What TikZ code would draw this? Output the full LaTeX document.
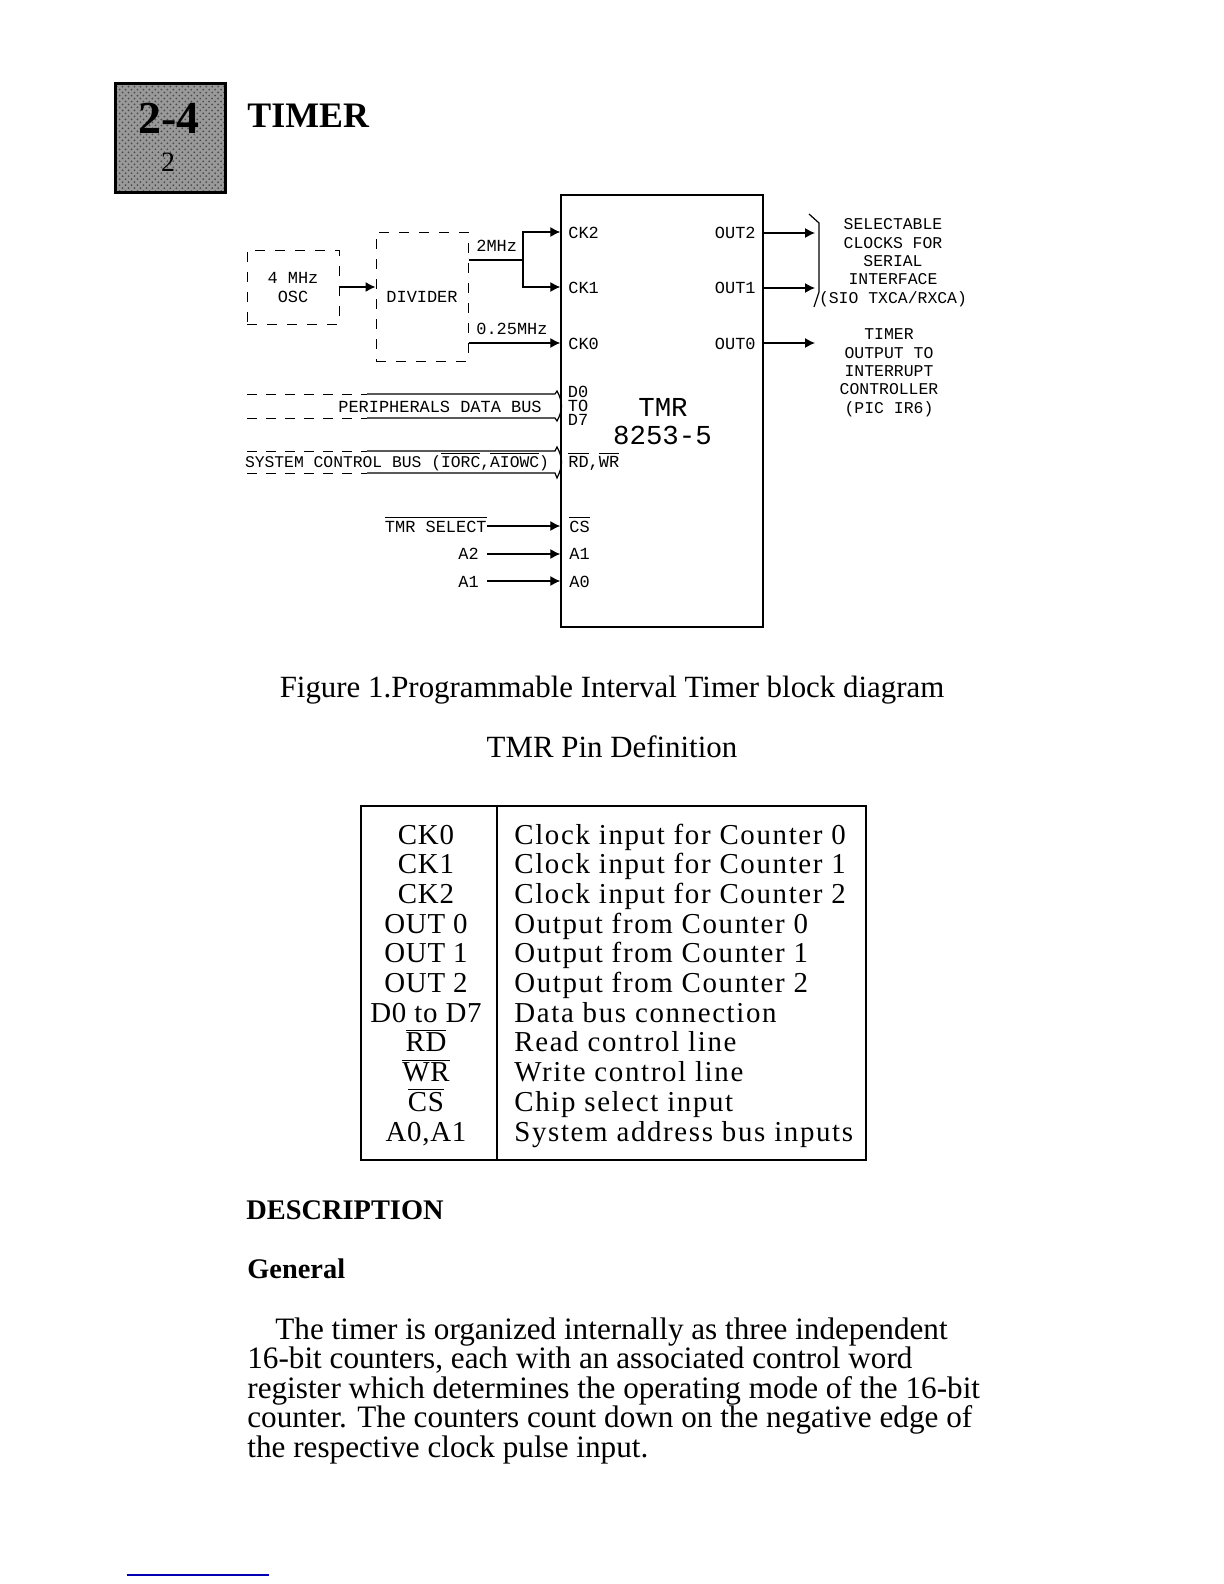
\documentclass[tikz,border=0pt]{standalone}
\usepackage{fontspec}
\setmainfont{Liberation Serif}
\newfontfamily\cadfont{Liberation Mono}
\newfontfamily\tabfont[LetterSpace=2.5]{Liberation Serif}
\newfontfamily\tabrfont[LetterSpace=5.7]{Liberation Serif}
\usepackage{xcolor}
\usetikzlibrary{positioning,arrows.meta,patterns}

\newcommand{\ovl}[1]{\smash{$\overline{\mbox{#1}}$}}
\newcommand{\cadsize}{\cadfont\fontsize{8.5}{9.2}\selectfont}

\begin{document}
\begin{tikzpicture}[
  x=0.5bp, y=-0.5bp,
  txt/.style    = {inner sep=0pt, anchor=base},
  lbl/.style    = {txt, font=\cadsize},
  pin/.style    = {lbl, anchor=base west},
  blk/.style    = {draw, line width=0.7bp, inner sep=0pt, fill=white},
  dblk/.style   = {blk, line width=0.5bp, dash pattern=on 5bp off 5bp},
  ln/.style     = {line width=0.6bp},
  dln/.style    = {line width=0.5bp, dash pattern=on 5bp off 4.5bp},
  ar/.style     = {ln, -{Latex[length=5bp,width=5bp]}},
  para/.style   = {txt, anchor=base west, align=left},
  body/.style   = {font=\fontsize{15.5}{14.75}\selectfont},
  tabl/.style   = {txt, font=\tabfont\fontsize{14.5}{14.9}\selectfont}
]
\useasboundingbox (0,0) rectangle (1224,1584);

% ---- heading --------------------------------------------------------------
\node[draw, line width=1.2bp, minimum width=55bp, minimum height=54.5bp, inner sep=0pt,
      preaction={fill=black!40}, pattern=crosshatch dots, pattern color=black!70]
      (sect) at (170.5,138) {};
\node[txt, font=\fontsize{23}{24}\selectfont\bfseries] (secta) at (169,133) {2-4};
\node[txt, font=\fontsize{14}{15}\selectfont] (sectb) at (168,171) {2};
\node[txt, anchor=base west, font=\fontsize{18}{20}\selectfont\bfseries] (title) at (247,127) {TIMER};

% ---- clock source ---------------------------------------------------------
\node[dblk, minimum width=46bp, minimum height=37bp] (osc) at (293,287) {};
\node[lbl] (osctxa) at (293,283) {4 MHz};
\node[lbl] (osctxb) at (293,302) {OSC};

\node[dblk, minimum width=46bp, minimum height=64.5bp] (div) at (422,296.5) {};
\node[lbl] (divtx) at (422,302) {DIVIDER};

\draw[ar] (osc.east) -- (osc.east -| div.west);

% ---- timer chip -----------------------------------------------------------
\node[blk, minimum width=101bp, minimum height=216bp] (chip) at (662,411) {};
\node[lbl, font=\cadfont\fontsize{13.75}{14}\selectfont] (chipa) at (663,416) {TMR};
\node[lbl, font=\cadfont\fontsize{13.75}{14}\selectfont] (chipb) at (662.5,444) {8253-5};

\node[pin] (ck2) at (568,238) {CK2};
\node[pin] (ck1) at (568,293) {CK1};
\node[pin] (ck0) at (568,349) {CK0};
\node[lbl, anchor=base east] (out2) at (756,238) {OUT2};
\node[lbl, anchor=base east] (out1) at (756,293) {OUT1};
\node[lbl, anchor=base east] (out0) at (756,349) {OUT0};
\node[lbl] (da) at (578,397) {D0};
\node[lbl] (db) at (578,411) {TO};
\node[lbl] (dc) at (578,425) {D7};
\node[pin] (rdwr) at (568,467) {\ovl{RD},\ovl{WR}};
\node[pin] (cs) at (569,532) {\ovl{CS}};
\node[pin] (aone) at (569,559) {A1};
\node[pin] (azero) at (569,587) {A0};

% ---- divider outputs ------------------------------------------------------
\node[pin] (twomhz) at (476,251) {2MHz};
\node[pin] (qmhz) at (476,334) {0.25MHz};
\coordinate (split) at (523,260);
\draw[ln] (div.east |- split) -- (split);
\draw[ar] (split) |- (chip.west |- 0,232);
\draw[ar] (split) |- (chip.west |- 0,287);
\draw[ar] (div.east |- 0,343) -- (chip.west |- 0,343);

% ---- buses ----------------------------------------------------------------
\node[lbl] (pbus) at (440,412) {PERIPHERALS DATA BUS};
\node[lbl, font=\cadfont\fontsize{8.2}{9.2}\selectfont] (sbus) at (397,467)
  {SYSTEM CONTROL BUS (\ovl{IORC},\ovl{AIOWC})};
\coordinate (pa) at (247,394);
\coordinate (pb) at (367,394);
\coordinate (pc) at (247,418);
\coordinate (pd) at (367,418);
\coordinate (sa) at (247,451);
\coordinate (sb) at (367,451);
\coordinate (sc) at (247,473);
\coordinate (sd) at (367,473);
\draw[dln] (pa) -- (pb);
\draw[dln] (pc) -- (pd);
\draw[dln] (sa) -- (sb);
\draw[dln] (sc) -- (sd);
\draw[ln] (pb) -- (555,394) -- (557,391) .. controls (563,402) and (563,410) .. (557,421)
  -- (555,418) -- (pd);
\draw[ln] (sb) -- (555,451) -- (557,447) .. controls (563,458) and (563,466) .. (557,478)
  -- (555,473) -- (sd);

% ---- select and address lines ---------------------------------------------
\node[lbl, anchor=base east] (tmrsel) at (487,532) {\ovl{TMR SELECT}};
\node[lbl, anchor=base west] (atwo) at (458,559) {A2};
\node[lbl, anchor=base west] (aoneb) at (458,587) {A1};
\coordinate (la) at (487,554);
\coordinate (lb) at (487,581);
\draw[ar] (tmrsel.east |- 0,526) -- (chip.west |- 0,526);
\draw[ar] (la) -- (chip.west |- la);
\draw[ar] (lb) -- (chip.west |- lb);

% ---- chip outputs ---------------------------------------------------------
\coordinate (oc) at (815,233);
\coordinate (ob) at (815,288);
\coordinate (oa) at (815,343);
\draw[ar] (chip.east |- oc) -- (oc);
\draw[ar] (chip.east |- ob) -- (ob);
\draw[ar] (chip.east |- oa) -- (oa);
\draw[ln] (809,214) -- (819,223) -- (819,292) -- (814,307);

\node[lbl, align=center, font=\cadfont\fontsize{8.25}{9.2}\selectfont] (seltx) at (893,303)
  {SELECTABLE\\CLOCKS FOR\\SERIAL\\INTERFACE\\(SIO TXCA/RXCA)};
\node[lbl, align=center, font=\cadfont\fontsize{8.25}{9.2}\selectfont] (pictx) at (889,413)
  {TIMER\\OUTPUT TO\\INTERRUPT\\CONTROLLER\\(PIC IR6)};

% ---- captions -------------------------------------------------------------
\node[txt, body] (figcap) at (612,697) {Figure 1.Programmable Interval Timer block diagram};
\node[txt, body] (tabcap) at (612,757) {TMR Pin Definition};

% ---- pin table ------------------------------------------------------------
\node[blk, line width=1.1bp, anchor=north west, minimum width=252.5bp, minimum height=177bp] (tab) at (360,805) {};
\draw[line width=1.1bp] (497,805) -- (497,1159);
\node[tabl, align=center] (tabl) at (426,1141)
  {CK0\\CK1\\CK2\\OUT 0\\OUT 1\\OUT 2\\D0 to D7\\\ovl{RD}\\\ovl{WR}\\\ovl{CS}\\A0,A1};
\node[tabl, align=left, anchor=base west, font=\tabrfont\fontsize{14.5}{14.9}\selectfont] (tabr) at (514,1141)
  {Clock input for Counter 0\\Clock input for Counter 1\\Clock input for Counter 2\\
   Output from Counter 0\\Output from Counter 1\\Output from Counter 2\\
   Data bus connection\\Read control line\\Write control line\\
   Chip select input\\System address bus inputs};

% ---- description ----------------------------------------------------------
\node[para, font=\fontsize{14.25}{15}\selectfont\bfseries] (desc) at (246,1219) {DESCRIPTION};
\node[para, font=\fontsize{14.25}{15}\selectfont\bfseries] (gen) at (247,1278) {General};
\node[para, font=\fontsize{15.65}{14.75}\selectfont] (ptext) at (247,1457)
  {\hspace*{14bp}The timer is organized internally as three independent\\
   16-bit counters, each with an associated control word\\
   register which determines the operating mode of the 16-bit\\
   counter. The counters count down on the negative edge of\\
   the respective clock pulse input.};

\coordinate (rula) at (127,1575);
\coordinate (rulb) at (269,1575);
\draw[line width=0.8bp, color=blue!70!black] (rula) -- (rulb);

\end{tikzpicture}
\end{document}
